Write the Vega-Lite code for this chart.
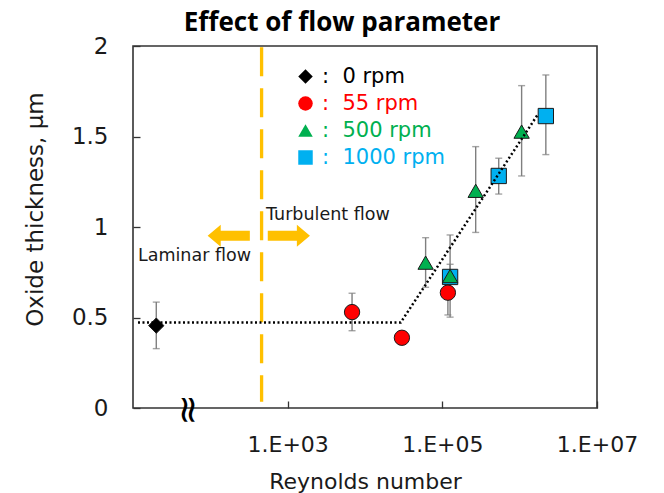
{
  "$schema": "https://vega.github.io/schema/vega-lite/v6.json",
  "autosize": {"type": "none"},
  "width": 464,
  "height": 362,
  "padding": {"left": 133, "top": 46, "right": 67, "bottom": 85},
  "title": {"text": "Effect of flow parameter", "font": "Open Sans", "fontWeight": "bold", "fontSize": 26, "color": "#000000", "baseline": "alphabetic", "offset": -22, "dx": -23},
  "config": {
    "view": {"stroke": "#333333", "strokeWidth": 1.6},
    "axis": {"domain": false, "grid": false, "tickColor": "#333333", "tickSize": -7, "tickWidth": 1.3, "labelFont": "DejaVu Sans", "labelColor": "#1a1a1a", "titleFont": "DejaVu Sans", "titleColor": "#1a1a1a", "titleFontWeight": "normal"}
  },
  "datasets": {
    "points": [
      {"speed": "1000 rpm", "re": 126000, "t": 0.724, "lo": 0.654, "hi": 0.794},
      {"speed": "1000 rpm", "re": 536000, "t": 1.282, "lo": 1.182, "hi": 1.38},
      {"speed": "1000 rpm", "re": 2180000, "t": 1.613, "lo": 1.4, "hi": 1.84},
      {"speed": "55 rpm", "re": 6800, "t": 0.53, "lo": 0.427, "hi": 0.634},
      {"speed": "55 rpm", "re": 30000, "t": 0.388, "lo": null, "hi": null},
      {"speed": "55 rpm", "re": 118000, "t": 0.637, "lo": 0.514, "hi": 0.76},
      {"speed": "500 rpm", "re": 60800, "t": 0.803, "lo": 0.667, "hi": 0.941},
      {"speed": "500 rpm", "re": 126000, "t": 0.729, "lo": 0.502, "hi": 0.956},
      {"speed": "500 rpm", "re": 270000, "t": 1.2, "lo": 0.97, "hi": 1.444},
      {"speed": "500 rpm", "re": 1060000, "t": 1.527, "lo": 1.282, "hi": 1.781},
      {"speed": "0 rpm", "re": 20, "t": 0.455, "lo": 0.328, "hi": 0.585}
    ],
    "trend": [
      {"re": 11.6, "t": 0.473},
      {"re": 29000, "t": 0.473},
      {"re": 1730000, "t": 1.624}
    ],
    "boundary": [{"re": 460, "top": 1.993, "bottom": 0.035}],
    "labels": [
      {"re": 525, "t": 1.066, "label": "Turbulent flow"},
      {"re": 11.6, "t": 0.841, "label": "Laminar flow"}
    ],
    "arrows": [
      {"re": 173, "t": 0.952, "dir": "left"},
      {"re": 1036, "t": 0.952, "dir": "right"}
    ],
    "brk": [{"re": 50, "t": -0.01, "sym": "≈"}]
  },
  "layer": [
    {
      "data": {"name": "boundary"},
      "mark": {"type": "rule", "color": "#FFC000", "strokeWidth": 3.3, "strokeDash": [29, 12]},
      "encoding": {
        "x": {"field": "re", "type": "quantitative", "scale": {"type": "log", "domain": [10, 10000000], "nice": false},
          "axis": {"values": [1000, 100000, 10000000], "labelExpr": "'1.E+0' + round(log(datum.value)/LN10)", "labelFontSize": 22, "labelPadding": 33, "labelFlush": false, "labelOverlap": false, "title": "Reynolds number", "titleFontSize": 22, "titleY": 80, "titleBaseline": "alphabetic"}},
        "y": {"field": "top", "type": "quantitative", "scale": {"domain": [0, 2], "nice": false},
          "axis": {"values": [0, 0.5, 1, 1.5, 2], "labelExpr": "'' + datum.value", "labelFontSize": 23, "labelPadding": 32, "title": "Oxide thickness,  μm", "titleFontSize": 23, "titleAngle": -90, "titleX": -98, "titleY": 163, "titleAlign": "center", "titleBaseline": "middle"}},
        "y2": {"field": "bottom"}
      }
    },
    {
      "data": {"name": "arrows"},
      "transform": [{"filter": "datum.dir == 'left'"}],
      "mark": {"type": "point", "filled": true, "opacity": 1, "color": "#FFC000", "size": 1780, "shape": "M -1 0 L -0.38 -0.524 L -0.38 -0.238 L 1 -0.238 L 1 0.238 L -0.38 0.238 L -0.38 0.524 Z"},
      "encoding": {"x": {"field": "re", "type": "quantitative"}, "y": {"field": "t", "type": "quantitative"}}
    },
    {
      "data": {"name": "arrows"},
      "transform": [{"filter": "datum.dir == 'right'"}],
      "mark": {"type": "point", "filled": true, "opacity": 1, "color": "#FFC000", "size": 1780, "shape": "M 1 0 L 0.38 -0.524 L 0.38 -0.238 L -1 -0.238 L -1 0.238 L 0.38 0.238 L 0.38 0.524 Z"},
      "encoding": {"x": {"field": "re", "type": "quantitative"}, "y": {"field": "t", "type": "quantitative"}}
    },
    {
      "data": {"name": "labels"},
      "mark": {"type": "text", "align": "left", "baseline": "middle", "font": "DejaVu Sans", "fontSize": 17.5, "color": "#1a1a1a"},
      "encoding": {"x": {"field": "re", "type": "quantitative"}, "y": {"field": "t", "type": "quantitative"}, "text": {"field": "label"}}
    },
    {
      "data": {"name": "points"},
      "transform": [{"filter": "datum.lo != null"}],
      "mark": {"type": "rule", "color": "#7F7F7F", "strokeWidth": 1.4},
      "encoding": {"x": {"field": "re", "type": "quantitative"}, "y": {"field": "lo", "type": "quantitative"}, "y2": {"field": "hi"}}
    },
    {
      "data": {"name": "points"},
      "transform": [{"filter": "datum.lo != null"}],
      "mark": {"type": "tick", "orient": "horizontal", "color": "#7F7F7F", "size": 7, "thickness": 1.4},
      "encoding": {"x": {"field": "re", "type": "quantitative"}, "y": {"field": "lo", "type": "quantitative"}}
    },
    {
      "data": {"name": "points"},
      "transform": [{"filter": "datum.lo != null"}],
      "mark": {"type": "tick", "orient": "horizontal", "color": "#7F7F7F", "size": 7, "thickness": 1.4},
      "encoding": {"x": {"field": "re", "type": "quantitative"}, "y": {"field": "hi", "type": "quantitative"}}
    },
    {
      "data": {"name": "points"},
      "mark": {"type": "point", "filled": true, "opacity": 1, "size": 235, "stroke": "#1a1a1a", "strokeWidth": 1},
      "encoding": {
        "x": {"field": "re", "type": "quantitative"},
        "y": {"field": "t", "type": "quantitative"},
        "color": {"field": "speed", "type": "nominal", "scale": {"domain": ["0 rpm", "55 rpm", "500 rpm", "1000 rpm"], "range": ["#000000", "#FF0000", "#00B050", "#00B0F0"]},
          "legend": {"orient": "none", "legendX": 162, "legendY": 20, "title": null, "labelFont": "DejaVu Sans", "labelFontSize": 21, "labelOffset": 6, "rowPadding": 5, "symbolSize": 210, "symbolStrokeWidth": 0, "symbolStrokeColor": "transparent", "padding": 0, "labelExpr": "':\u00a0\u00a0' + datum.label",
            "labelColor": {"expr": "datum.value == '0 rpm' ? '#000000' : datum.value == '55 rpm' ? '#FF0000' : datum.value == '500 rpm' ? '#00B050' : '#00B0F0'"}}},
        "shape": {"field": "speed", "type": "nominal", "scale": {"domain": ["0 rpm", "55 rpm", "500 rpm", "1000 rpm"], "range": ["diamond", "circle", "triangle-up", "square"]}}
      }
    },
    {
      "data": {"name": "trend"},
      "mark": {"type": "line", "color": "#000000", "strokeWidth": 2.5, "strokeDash": [2, 2.5]},
      "encoding": {"x": {"field": "re", "type": "quantitative"}, "y": {"field": "t", "type": "quantitative"}}
    },
    {
      "data": {"name": "brk"},
      "mark": {"type": "text", "angle": 90, "font": "DejaVu Sans", "fontSize": 38, "fontWeight": "normal", "align": "center", "baseline": "middle", "color": "#000000"},
      "encoding": {"x": {"field": "re", "type": "quantitative"}, "y": {"field": "t", "type": "quantitative"}, "text": {"field": "sym"}}
    }
  ]
}
